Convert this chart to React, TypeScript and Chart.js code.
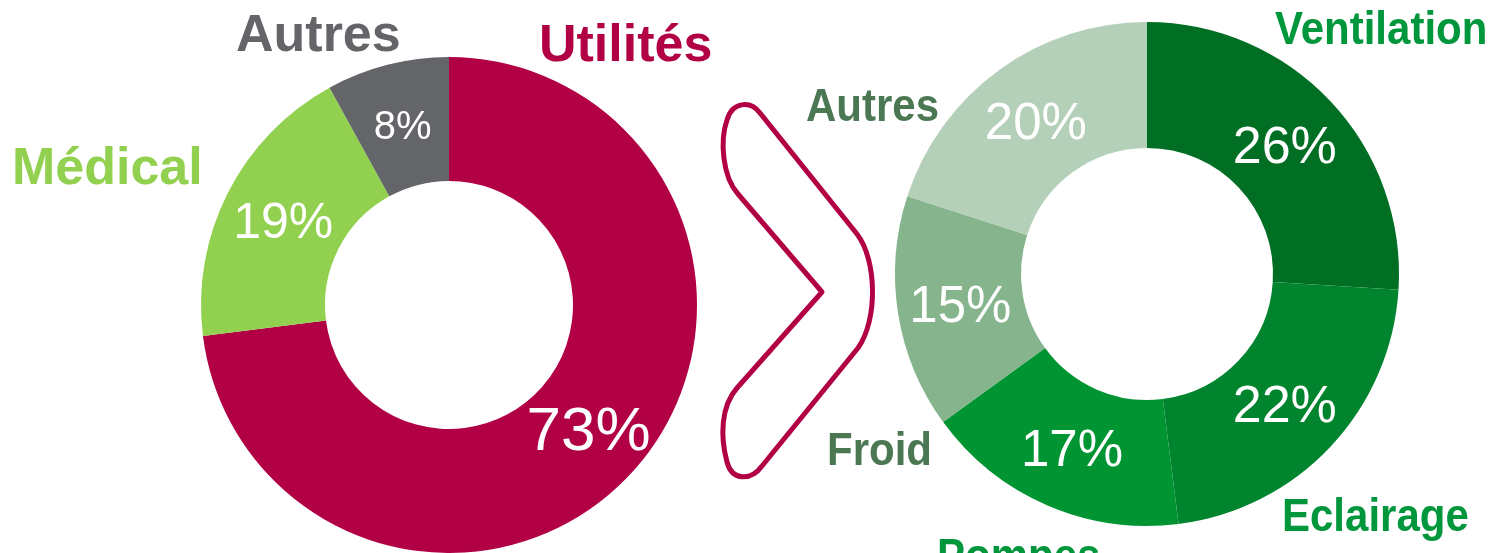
import React, { useEffect, useRef } from "react";
import { Chart, registerables } from "chart.js";

Chart.register(...registerables);

// ---- Data ----
const leftCategories = ["Utilités", "Médical", "Autres"];
const leftValues = [73, 19, 8];

const rightCategories = ["Ventilation", "Eclairage", "Pompes", "Froid", "Autres"];
const rightValues = [26, 22, 17, 15, 20];

// ---- Styles ----
const FONT = '"Liberation Sans", Arial, Helvetica, sans-serif';
const W = 1492;
const H = 553;

const leftColors = ["#B10044", "#92D050", "#636569"];
const leftNameColors = ["#B10044", "#92D050", "#636569"];
const leftPctSizes = [62, 50, 40];
const leftNamePos = [
  [539, 61],
  [12, 184],
  [236, 51],
];
const leftNameSize = 52;

const rightColors = ["#006F24", "#00842D", "#009433", "#86B58D", "#B5D0B8"];
const rightNameColors = ["#00963C", "#00963C", "#00963C", "#4B7752", "#4B7752"];
const rightPctSizes = [52, 52, 51, 51, 51];
const rightNamePos = [
  [1275, 44],
  [1282, 531],
  [937, 571],
  [827, 465],
  [806, 121],
];
const rightNameSize = 42;
const rightNameStretchY = 1.1;

type LabelCfg = {
  names: string[];
  values: number[];
  pctSizes: number[];
  namePos: number[][];
  nameColors: string[];
  nameSize: number;
  stretchY: number;
  chevron?: boolean;
};

function makeLabelPlugin(id: string, cfg: LabelCfg) {
  return {
    id,
    afterDatasetsDraw(chart: any) {
      const ctx: CanvasRenderingContext2D = chart.ctx;
      const meta = chart.getDatasetMeta(0);
      ctx.save();
      // percentages inside the slices
      meta.data.forEach((arc: any, i: number) => {
        const p = arc.tooltipPosition(false);
        const size = cfg.pctSizes[i];
        ctx.font = `normal ${size}px ${FONT}`;
        ctx.fillStyle = "#FFFFFF";
        ctx.textAlign = "center";
        ctx.textBaseline = "alphabetic";
        ctx.fillText(`${cfg.values[i]}%`, p.x, p.y + size * 0.358);
      });
      // category names
      cfg.names.forEach((name, i) => {
        ctx.save();
        ctx.font = `bold ${cfg.nameSize}px ${FONT}`;
        ctx.fillStyle = cfg.nameColors[i];
        ctx.textAlign = "left";
        ctx.textBaseline = "alphabetic";
        ctx.translate(cfg.namePos[i][0], cfg.namePos[i][1]);
        ctx.scale(1, cfg.stretchY);
        ctx.fillText(name, 0, 0);
        ctx.restore();
      });
      if (cfg.chevron) {
        ctx.beginPath();
        ctx.moveTo(822, 292);
        ctx.lineTo(738, 194);
        ctx.bezierCurveTo(722, 176, 720, 140, 727, 120);
        ctx.bezierCurveTo(732, 102, 750, 100, 760, 113);
        ctx.lineTo(857, 234);
        ctx.bezierCurveTo(877, 260, 878, 320, 858, 348);
        ctx.lineTo(762, 466);
        ctx.bezierCurveTo(751, 481, 732, 481, 727, 462);
        ctx.bezierCurveTo(720, 436, 721, 406, 737, 388);
        ctx.closePath();
        ctx.lineWidth = 5;
        ctx.lineJoin = "round";
        ctx.strokeStyle = "#B10044";
        ctx.stroke();
      }
      ctx.restore();
    },
  };
}

function makeDoughnut(
  canvas: HTMLCanvasElement,
  labels: string[],
  values: number[],
  colors: string[],
  radius: number,
  cutout: number,
  padding: { left: number; right: number; top: number; bottom: number },
  plugin: any
) {
  return new Chart(canvas, {
    type: "doughnut",
    data: {
      labels,
      datasets: [
        {
          data: values,
          backgroundColor: colors,
          borderWidth: 0,
          hoverOffset: 0,
        },
      ],
    },
    options: {
      responsive: false,
      animation: false,
      events: [],
      radius,
      cutout,
      layout: { padding },
      plugins: {
        legend: { display: false },
        tooltip: { enabled: false },
        title: { display: false },
      },
    } as any,
    plugins: [plugin],
  });
}

export default function App() {
  const leftRef = useRef<HTMLCanvasElement>(null);
  const rightRef = useRef<HTMLCanvasElement>(null);

  useEffect(() => {
    document.body.style.margin = "0";
    const left = makeDoughnut(
      leftRef.current!,
      leftCategories,
      leftValues,
      leftColors,
      248,
      124,
      { left: 201, right: W - 697, top: 57, bottom: 0 },
      makeLabelPlugin("leftLabels", {
        names: leftCategories,
        values: leftValues,
        pctSizes: leftPctSizes,
        namePos: leftNamePos,
        nameColors: leftNameColors,
        nameSize: leftNameSize,
        stretchY: 1,
        chevron: true,
      })
    );
    const right = makeDoughnut(
      rightRef.current!,
      rightCategories,
      rightValues,
      rightColors,
      252,
      126,
      { left: 895, right: W - 1399, top: 22, bottom: 27 },
      makeLabelPlugin("rightLabels", {
        names: rightCategories,
        values: rightValues,
        pctSizes: rightPctSizes,
        namePos: rightNamePos,
        nameColors: rightNameColors,
        nameSize: rightNameSize,
        stretchY: rightNameStretchY,
      })
    );
    return () => {
      left.destroy();
      right.destroy();
    };
  }, []);

  return (
    <div
      style={{
        position: "absolute",
        left: 0,
        top: 0,
        width: W,
        height: H,
        background: "#FFFFFF",
        overflow: "hidden",
      }}
    >
      <canvas
        ref={leftRef}
        width={W}
        height={H}
        style={{ position: "absolute", left: 0, top: 0 }}
      />
      <canvas
        ref={rightRef}
        width={W}
        height={H}
        style={{ position: "absolute", left: 0, top: 0 }}
      />
    </div>
  );
}
